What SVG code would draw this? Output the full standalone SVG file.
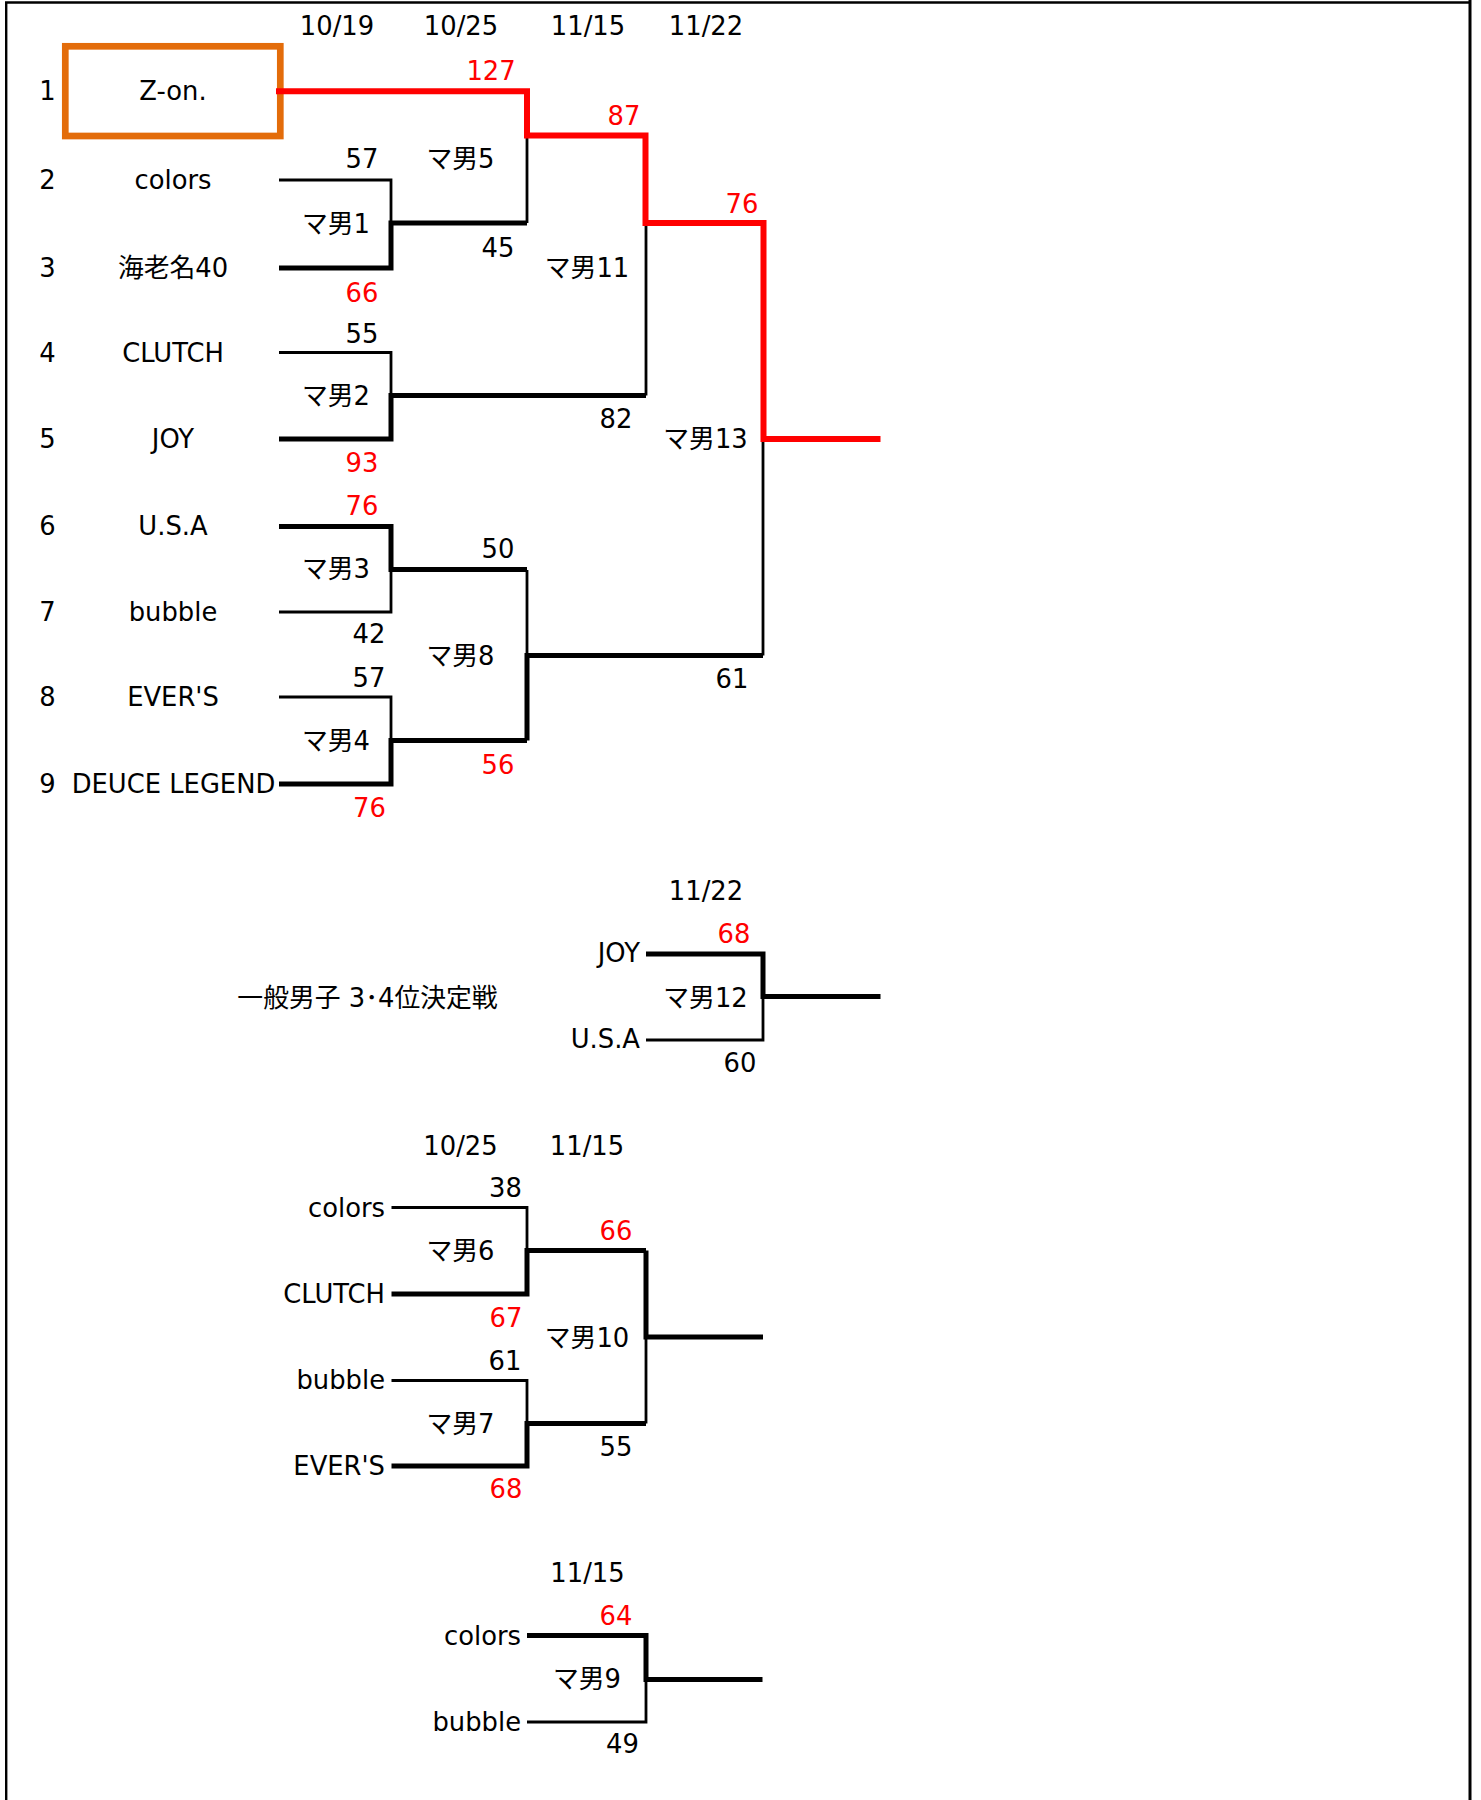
<svg xmlns="http://www.w3.org/2000/svg" width="1481" height="1800" viewBox="0 0 1481 1800">
<style>
text{font-family:"DejaVu Sans","Noto Sans CJK JP",sans-serif;font-size:25.8px;fill:#000}
.m{text-anchor:middle}
.e{text-anchor:end}
.r{fill:#FF0000}
.thin{fill:none;stroke:#000;stroke-width:2.8;stroke-linejoin:miter}
.thick{fill:none;stroke:#000;stroke-width:5;stroke-linejoin:miter}
.win{fill:none;stroke:#FF0000;stroke-width:6;stroke-linejoin:miter}
.frame{fill:none;stroke:#000}
</style>
<rect width="1481" height="1800" fill="#fff"/>
<g id="frame">
<line class="frame" x1="5" y1="2.5" x2="1471" y2="2.5" stroke-width="2.4"/>
<line class="frame" x1="6.2" y1="2" x2="6.2" y2="1800" stroke-width="2.4"/>
<line class="frame" x1="1470" y1="0" x2="1470" y2="1800" stroke-width="3"/>
</g>
<g id="dates">
<text class="m" x="337" y="35">10/19</text>
<text class="m" x="461" y="35">10/25</text>
<text class="m" x="588" y="35">11/15</text>
<text class="m" x="706" y="35">11/22</text>
<text class="m" x="706" y="900">11/22</text>
<text class="m" x="460.5" y="1155">10/25</text>
<text class="m" x="587" y="1155">11/15</text>
<text class="m" x="587.5" y="1582">11/15</text>
</g>
<g id="team1"><rect x="65.3" y="46.3" width="215" height="89.7" fill="none" stroke="#E36C0A" stroke-width="6.7"/><text class="m" x="47.5" y="100">1</text><text class="m" x="173" y="100">Z-on.</text></g>
<g id="team2"><text class="m" x="47.5" y="189">2</text><text class="m" x="173" y="189">colors</text></g>
<g id="team3"><text class="m" x="47.5" y="277">3</text><text class="m" x="173" y="277">海老名40</text></g>
<g id="team4"><text class="m" x="47.5" y="361.5">4</text><text class="m" x="173" y="361.5">CLUTCH</text></g>
<g id="team5"><text class="m" x="47.5" y="448">5</text><text class="m" x="173" y="448">JOY</text></g>
<g id="team6"><text class="m" x="47.5" y="535">6</text><text class="m" x="173" y="535">U.S.A</text></g>
<g id="team7"><text class="m" x="47.5" y="621">7</text><text class="m" x="173" y="621">bubble</text></g>
<g id="team8"><text class="m" x="47.5" y="706">8</text><text class="m" x="173" y="706">EVER'S</text></g>
<g id="team9"><text class="m" x="47.5" y="793">9</text><text class="m" x="173.5" y="793">DEUCE LEGEND</text></g>
<g id="m1"><text class="m" x="362" y="168">57</text><text class="m" x="336" y="233">マ男1</text><text class="m r" x="362" y="301.5">66</text></g>
<g id="m2"><text class="m" x="362" y="343">55</text><text class="m" x="336" y="405">マ男2</text><text class="m r" x="362" y="471.5">93</text></g>
<g id="m3"><text class="m r" x="362" y="515">76</text><text class="m" x="336" y="578">マ男3</text><text class="m" x="369" y="643">42</text></g>
<g id="m4"><text class="m" x="369" y="687">57</text><text class="m" x="336" y="750">マ男4</text><text class="m r" x="369.5" y="816.5">76</text></g>
<g id="m5"><text class="m r" x="491" y="80">127</text><text class="m" x="460.5" y="168">マ男5</text><text class="m" x="498" y="256.5">45</text></g>
<g id="m8"><text class="m" x="498" y="558">50</text><text class="m" x="460.5" y="665">マ男8</text><text class="m r" x="498" y="773.5">56</text></g>
<g id="m11"><text class="m r" x="624" y="125">87</text><text class="m" x="587" y="276.5">マ男11</text><text class="m" x="616" y="428">82</text></g>
<g id="m13"><text class="m r" x="742" y="213">76</text><text class="m" x="705.5" y="448">マ男13</text><text class="m" x="732" y="688">61</text></g>
<g id="title34"><text class="m" x="367.5" y="1007">一般男子 3･4位決定戦</text></g>
<g id="m12"><text class="e" x="640" y="962">JOY</text><text class="e" x="640" y="1048">U.S.A</text><text class="m r" x="734" y="943">68</text><text class="m" x="705.5" y="1006.5">マ男12</text><text class="m" x="740" y="1071.5">60</text></g>
<g id="m6"><text class="e" x="385" y="1216.5">colors</text><text class="e" x="385" y="1303">CLUTCH</text><text class="m" x="505.5" y="1196.5">38</text><text class="m" x="460.5" y="1260">マ男6</text><text class="m r" x="506" y="1327">67</text></g>
<g id="m7"><text class="e" x="385" y="1389">bubble</text><text class="e" x="385" y="1475">EVER'S</text><text class="m" x="505" y="1369.5">61</text><text class="m" x="460.5" y="1432.5">マ男7</text><text class="m r" x="506" y="1498">68</text></g>
<g id="m10"><text class="m r" x="616" y="1240">66</text><text class="m" x="587" y="1346.5">マ男10</text><text class="m" x="616" y="1456">55</text></g>
<g id="m9"><text class="e" x="521" y="1644.5">colors</text><text class="e" x="521" y="1731">bubble</text><text class="m r" x="616" y="1625">64</text><text class="m" x="587" y="1688">マ男9</text><text class="m" x="622.5" y="1753">49</text></g>
<g id="connectors">
<path class="thin" d="M279,180 H391 V223.5"/>
<path class="thick" d="M279,268 H391 V223 H527"/>
<path class="thin" d="M527,135.5 V223"/>
<path class="thin" d="M279,352.5 H391 V396"/>
<path class="thick" d="M279,439 H391 V395.5 H646"/>
<path class="thin" d="M646,223 V395.5"/>
<path class="thick" d="M279,526.5 H391 V569.5 H527"/>
<path class="thin" d="M279,612 H391 V569.5"/>
<path class="thin" d="M279,697 H391 V740.5"/>
<path class="thick" d="M279,784 H391 V740.5 H527"/>
<path class="thin" d="M527,570 V655"/>
<path class="thick" d="M527,740.5 V655.5 H763"/>
<path class="thin" d="M763,439 V655.5"/>
<path class="win" d="M276,91.3 H527 V135.5 H645.5 V223 H763.5 V439 H880.5"/>
<path class="thick" d="M646,954 H763 V996.5 H880.5"/>
<path class="thin" d="M646,1040 H763 V996.5"/>
<path class="thin" d="M391.5,1207.5 H527 V1250.5"/>
<path class="thick" d="M391.5,1294 H527 V1250.5 H646"/>
<path class="thin" d="M391.5,1380.5 H527 V1423.5"/>
<path class="thick" d="M391.5,1466 H527 V1423.5 H646"/>
<path class="thick" d="M646,1250.5 V1337 H763"/>
<path class="thin" d="M646,1423.5 V1337"/>
<path class="thick" d="M527,1635.5 H646 V1679.5 H762.5"/>
<path class="thin" d="M527,1722 H646 V1679.5"/>
</g>
</svg>
